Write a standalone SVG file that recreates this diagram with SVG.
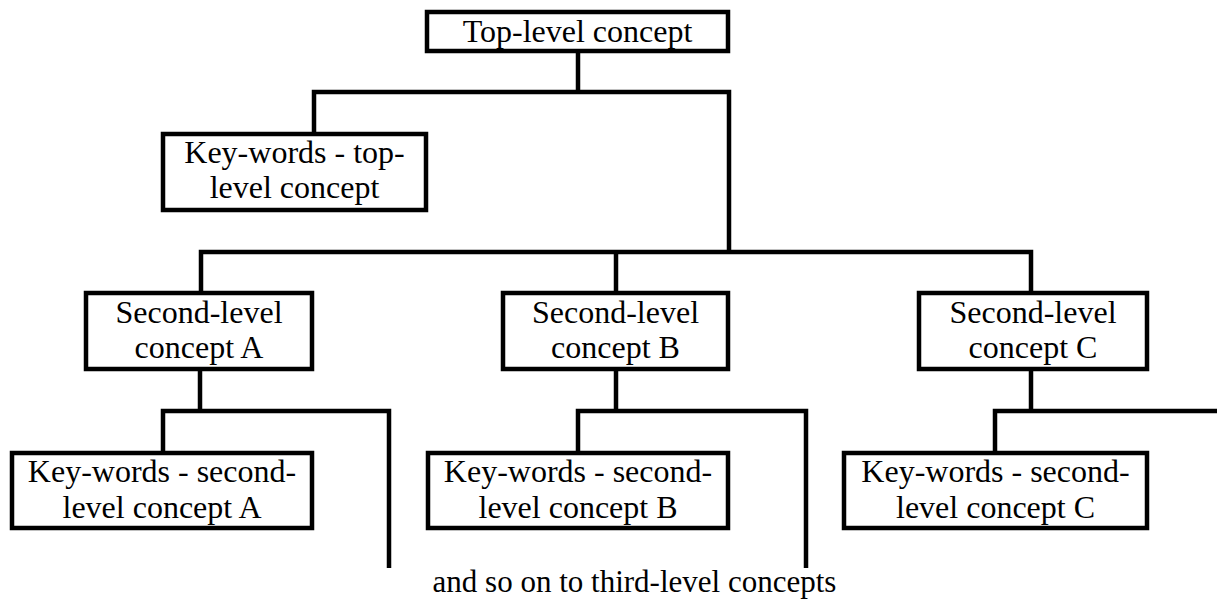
<svg xmlns="http://www.w3.org/2000/svg" width="1217" height="605" viewBox="0 0 1217 605">
<style>
.box{fill:#fff;stroke:#000;stroke-width:4.5}
.ln{fill:none;stroke:#000;stroke-width:4.5;stroke-linecap:butt;stroke-linejoin:miter}
text{font-family:"Liberation Serif","Times New Roman",serif;font-size:32px;fill:#000;text-anchor:middle}
.note{font-size:31px}
</style>
<rect width="1217" height="605" fill="#fff"/>
<g id="connectors">
<path class="ln" d="M578 51 V92"/>
<path class="ln" d="M314 134 V92 H729 V252"/>
<path class="ln" d="M201 293 V252 H1031 V293"/>
<path class="ln" d="M616 252 V293"/>
<path class="ln" d="M200 369 V411"/>
<path class="ln" d="M163 453 V411 H389 V568"/>
<path class="ln" d="M616 369 V411"/>
<path class="ln" d="M578 453 V411 H806 V568"/>
<path class="ln" d="M1031 369 V411"/>
<path class="ln" d="M995 453 V411 H1217"/>
</g>
<g id="top">
<rect class="box" x="427" y="12" width="301" height="39"/>
<text x="577.5" y="42">Top-level concept</text>
</g>
<g id="kw-top">
<rect class="box" x="163" y="134" width="263" height="76"/>
<text x="294.5" y="163">Key-words - top-</text>
<text x="294.5" y="198">level concept</text>
</g>
<g id="second-a">
<rect class="box" x="86" y="293" width="226" height="76"/>
<text x="199" y="323">Second-level</text>
<text x="199" y="358">concept A</text>
</g>
<g id="second-b">
<rect class="box" x="503" y="293" width="225" height="76"/>
<text x="615.5" y="323">Second-level</text>
<text x="615.5" y="358">concept B</text>
</g>
<g id="second-c">
<rect class="box" x="919" y="293" width="228" height="76"/>
<text x="1033" y="323">Second-level</text>
<text x="1033" y="358">concept C</text>
</g>
<g id="kw-a">
<rect class="box" x="12" y="453" width="300" height="75"/>
<text x="162" y="482">Key-words - second-</text>
<text x="162" y="518">level concept A</text>
</g>
<g id="kw-b">
<rect class="box" x="428" y="453" width="300" height="75"/>
<text x="578" y="482">Key-words - second-</text>
<text x="578" y="518">level concept B</text>
</g>
<g id="kw-c">
<rect class="box" x="844" y="453" width="303" height="75"/>
<text x="995.5" y="482">Key-words - second-</text>
<text x="995.5" y="518">level concept C</text>
</g>
<g id="note">
<text class="note" x="634.5" y="592">and so on to third-level concepts</text>
</g>
</svg>
